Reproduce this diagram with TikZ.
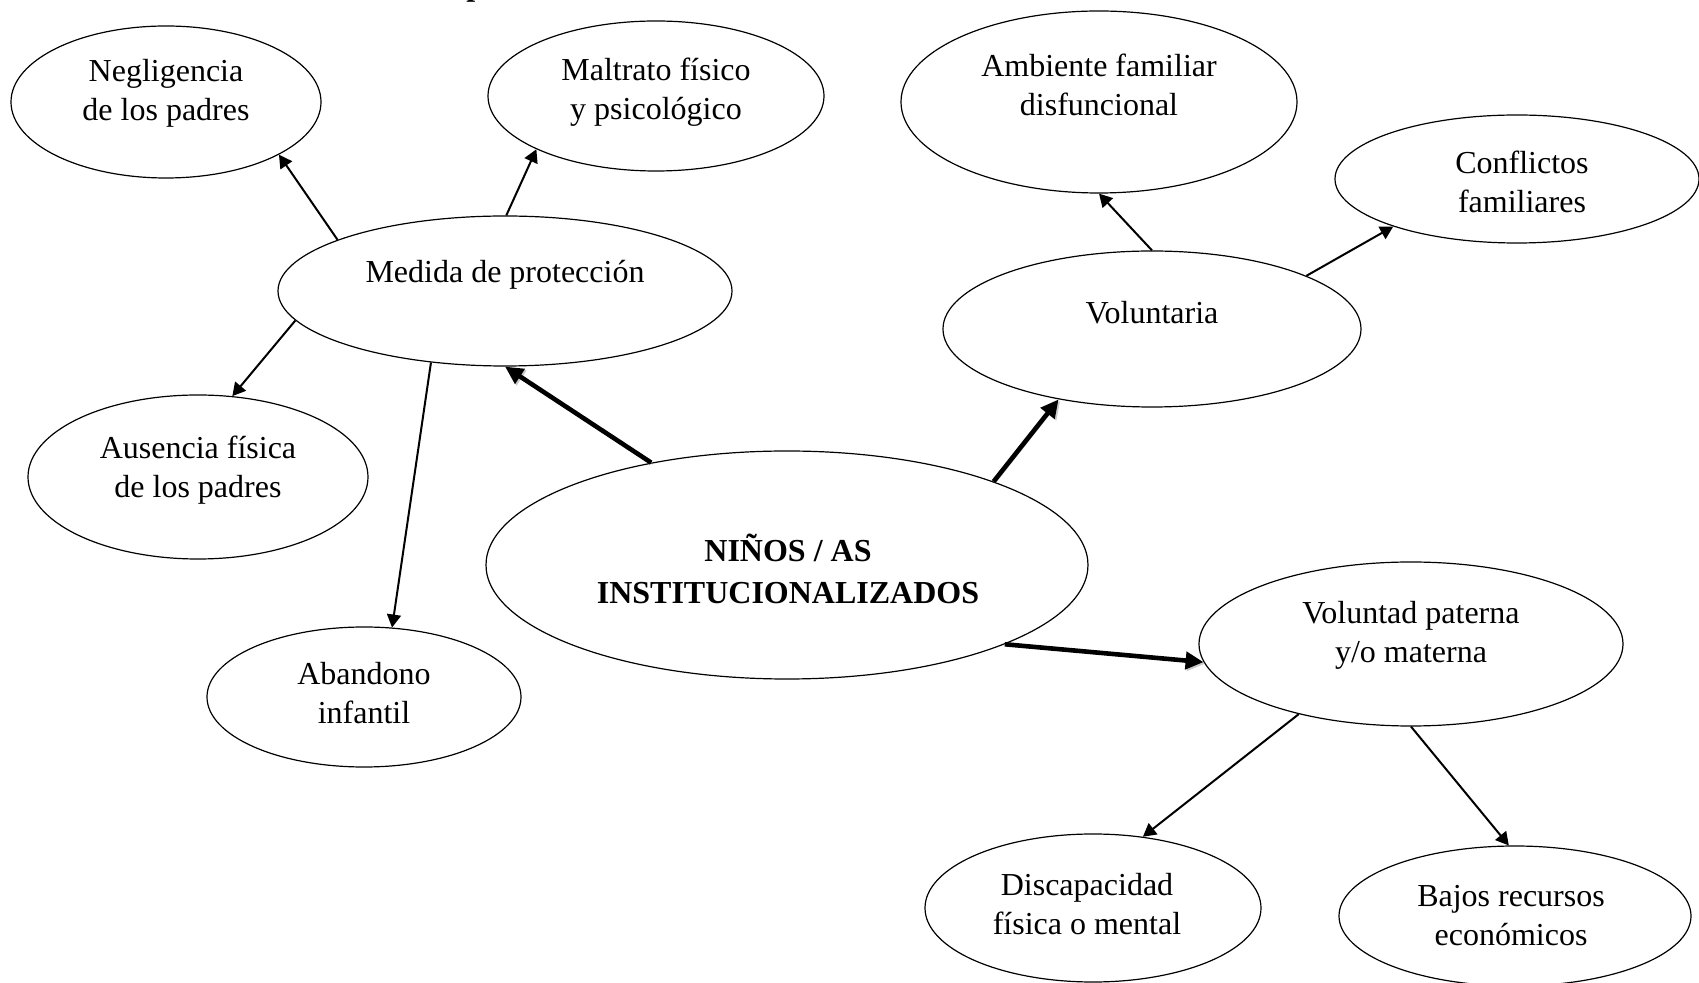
\documentclass[tikz,border=0pt]{standalone}
\usepackage{fontspec}
\setmainfont{Liberation Serif}
\usetikzlibrary{shapes.geometric,arrows.meta}

\begin{document}
\begin{tikzpicture}[x=0.5pt,y=-0.5pt,
  oval/.style={draw=black, line width=0.6pt, ellipse, inner sep=0pt},
  lbl/.style={align=center, font=\fontsize{16}{19.5}\selectfont, inner sep=0pt},
  conn/.style={line width=1pt, -{Triangle[length=6.5pt,width=7pt]}},
  bigconn/.style={line width=2.3pt, -{Triangle[length=9pt,width=8.5pt]},
    preaction={draw=black!45, opacity=0.45, transform canvas={xshift=0.8pt,yshift=-0.8pt}}},
]
\useasboundingbox (0,0) rectangle (1699,983);
\clip (0,0) rectangle (1699,983);

% partial title (cut by the top edge)
\node[font=\bfseries\fontsize{16}{19}\selectfont, anchor=base west, inner sep=0pt] (ptitle) at (466,-4) {p};

% ellipses
\node[oval, minimum width=155pt, minimum height=76pt] (neg) at (166,102) {};
\node[oval, minimum width=168pt, minimum height=75pt] (mal) at (656,96) {};
\node[oval, minimum width=227pt, minimum height=75pt] (med) at (505,291) {};
\node[oval, minimum width=170pt, minimum height=82pt] (aus) at (198,477) {};
\node[oval, minimum width=157pt, minimum height=70pt] (aba) at (364,697) {};
\node[oval, minimum width=301pt, minimum height=114pt] (nin) at (787,565) {};
\node[oval, minimum width=198pt, minimum height=91pt] (amb) at (1099,102) {};
\node[oval, minimum width=182pt, minimum height=64pt] (con) at (1517,179) {};
\node[oval, minimum width=209pt, minimum height=78pt] (vol) at (1152,329) {};
\node[oval, minimum width=212pt, minimum height=82pt] (vpm) at (1411,644) {};
\node[oval, minimum width=168pt, minimum height=74pt] (dis) at (1093,908) {};
\node[oval, minimum width=176pt, minimum height=70pt] (baj) at (1515,916) {};

% texts
\node[lbl] (negT) at (166,93) {Negligencia\\de los padres};
\node[lbl] (malT) at (656,92) {Maltrato físico\\y psicológico};
\node[lbl] (medT) at (505,275) {Medida de protección};
\node[lbl] (ausT) at (198,470) {Ausencia física\\de los padres};
\node[lbl] (abaT) at (364,693) {Abandono\\infantil};
\node[lbl, font=\bfseries\fontsize{16}{21}\selectfont] (ninT) at (788,569) {NIÑOS / AS\\INSTITUCIONALIZADOS};
\node[lbl] (ambT) at (1099,85) {Ambiente familiar\\disfuncional};
\node[lbl] (conT) at (1522,182) {Conflictos\\familiares};
\node[lbl] (volT) at (1152,313) {Voluntaria};
\node[lbl] (vpmT) at (1411,635) {Voluntad paterna\\y/o materna};
\node[lbl] (disT) at (1087,904) {Discapacidad\\física o mental};
\node[lbl] (bajT) at (1511,916) {Bajos recursos\\económicos};

% connectors
\draw[conn] (med.163) -- (neg.-25);
\draw[conn] (med.89) -- (mal.204);
\draw[conn] (med.188) -- (aus.67);
\draw[conn] (med.224) -- (aba.68);
\draw[bigconn] (nin.143) -- (med.south);
\draw[bigconn] (nin.22) -- (vol.217);
\draw[bigconn] (nin.-20) -- (vpm.185);
\draw[conn] (vol.north) -- (amb.south);
\draw[conn] (vol.19) -- (con.201);
\draw[conn] (vpm.212) -- (dis.55);
\draw[conn] (vpm.south) -- (baj.95);
\end{tikzpicture}
\end{document}
